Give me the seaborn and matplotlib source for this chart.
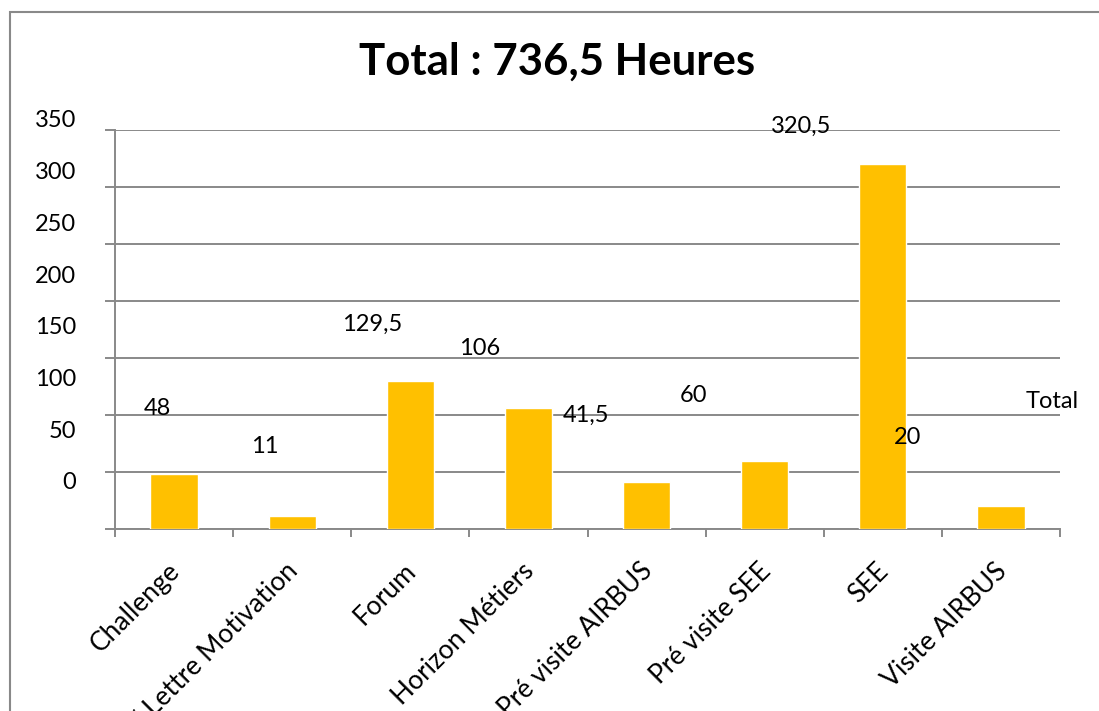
import matplotlib
matplotlib.use('Agg')
import matplotlib.pyplot as plt
import matplotlib.transforms as mtransforms
from matplotlib.patches import Rectangle
import seaborn as sns

# ── DATA ─────────────────────────────────────────────────────────────────────
categories = ["Challenge", "CV / Lettre Motivation", "Forum", "Horizon Métiers",
              "Pré visite AIRBUS", "Pré visite SEE", "SEE", "Visite AIRBUS"]
hours = [48, 11, 129.5, 106, 41.5, 60, 320.5, 20]
ytick_values = [0, 50, 100, 150, 200, 250, 300, 350]
title = "Total : 736,5 Heures"
legend_label = "Total"

# ── STYLE ────────────────────────────────────────────────────────────────────
BAR_COLOR = "#FFC000"
GREY = "#898989"
W, H = 1099, 711
SHRINK = 0.907   # text layer of the original export is drawn at ~91 % scale
FS = 17

sns.set_style("white")
plt.rcParams["font.family"] = ["Lato", "DejaVu Sans"]
plt.rcParams["text.color"] = "black"
plt.rcParams["xtick.labelcolor"] = "black"

fig = plt.figure(figsize=(W / 100, H / 100), dpi=100)
ax = fig.add_axes([115 / W, 1 - 529 / H, 945 / W, 399 / H])

sns.barplot(x=categories, y=hours, color=BAR_COLOR, saturation=1,
            width=0.4, ax=ax, zorder=3)

ax.set_xlim(-0.5, len(categories) - 0.5)
ax.set_ylim(0, 350)
ax.set_xlabel("")
ax.set_ylabel("")
ax.set_axisbelow(True)

# gridlines + outward y ticks, no labels here (drawn shifted below)
ax.set_yticks(ytick_values)
ax.set_yticklabels([])
ax.yaxis.grid(True, color=GREY, lw=1.4)
ax.tick_params(axis="y", left=True, length=7.5, width=1.4, color=GREY)

for s in ["top", "right"]:
    ax.spines[s].set_visible(False)
for s in ["left", "bottom"]:
    ax.spines[s].set_color(GREY)
    ax.spines[s].set_linewidth(1.4)

# category labels and boundary ticks
ax.set_xticks(range(len(categories)))
ax.set_xticklabels(categories, rotation=45, ha="right", va="top",
                   rotation_mode="anchor", fontsize=19, color="black")
ax.set_xticks([i - 0.5 for i in range(len(categories) + 1)], minor=True)
ax.tick_params(axis="x", which="major", length=0, pad=21)
ax.tick_params(axis="x", which="minor", bottom=True, length=6, width=1.4,
               color=GREY, direction="out")
shift = mtransforms.ScaledTranslation(-7 / 100, 0, fig.dpi_scale_trans)
for lab in ax.get_xticklabels():
    lab.set_transform(lab.get_transform() + shift)


def shrunk(x, y):
    # data point -> position in the shrunken text layer (figure fraction)
    X, Y = ax.transData.transform((x, y))
    return SHRINK * X / W, (H - SHRINK * (H - Y) - 3) / H


# y tick labels
for v in ytick_values:
    _, yf = shrunk(-0.5, v)
    fig.text(76 / W, yf, str(v), ha="right", va="center", fontsize=FS)

# data labels
for i, v in enumerate(hours):
    xf, yf = shrunk(i, v)
    txt = f"{v:g}".replace(".", ",")
    fig.text(xf, yf + 25 / H, txt, ha="center", va="center", fontsize=FS,
             zorder=5)

fig.text(557 / W, 1 - 62 / H, title, ha="center", va="center",
         fontsize=31.5, fontweight="bold")
fig.text(1026 / W, 1 - 401 / H, legend_label, ha="left", va="center",
         fontsize=FS)

# chart area border (only the top and left edges are inside the picture)
fig.add_artist(Rectangle((10 / W, -0.5), 2, (1 - 12 / H) + 0.5,
                         transform=fig.transFigure, fill=False,
                         edgecolor=GREY, lw=1.5))

plt.savefig("out.png", dpi=100)
plt.close()
